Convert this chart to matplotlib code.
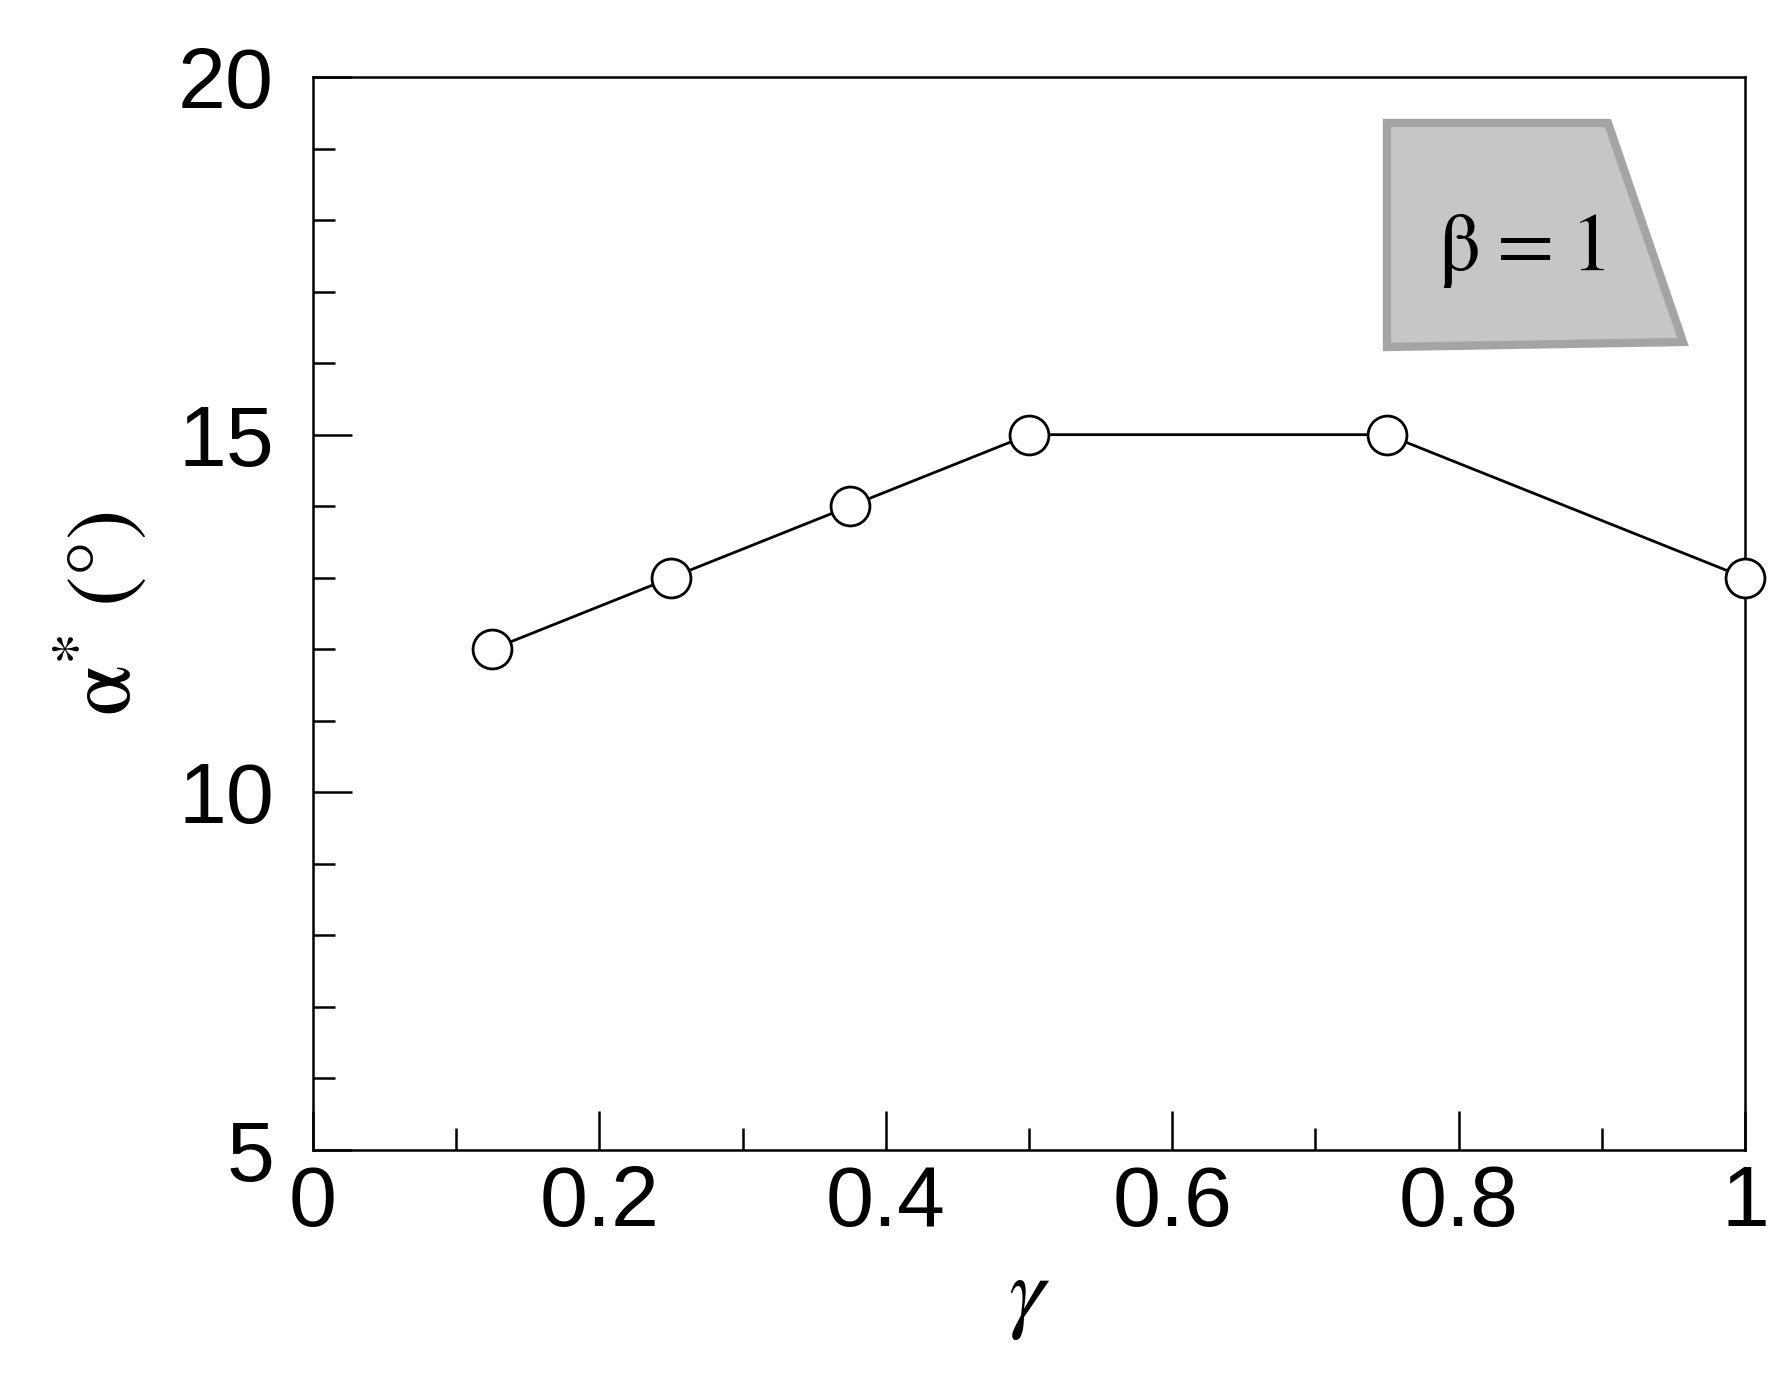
import matplotlib
matplotlib.use('Agg')
import matplotlib.pyplot as plt
from matplotlib.patches import Polygon
from matplotlib.ticker import MultipleLocator

plt.rcParams['mathtext.fontset'] = 'stix'

# valores
gamma = [0.125, 0.25, 0.375, 0.5, 0.75, 1.0]
alpha_star = [12, 13, 14, 15, 15, 13]

x_ticks = [0, 0.2, 0.4, 0.6, 0.8, 1]
x_labels = ['0', '0.2', '0.4', '0.6', '0.8', '1']
y_ticks = [5, 10, 15, 20]
y_labels = ['5', '10', '15', '20']

W, H = 1786, 1375
fig = plt.figure(figsize=(W / 100, H / 100), dpi=100)
ax = fig.add_axes([313 / W, 1 - 1150 / H, (1745 - 313) / W, (1150 - 77) / H])

ax.plot(gamma, alpha_star, color='black', linewidth=2.0, marker='o',
        markersize=28, markerfacecolor='white', markeredgecolor='black',
        markeredgewidth=2.0, clip_on=False, zorder=3)

ax.set_xlim(0, 1)
ax.set_ylim(5, 20)
ax.set_xticks(x_ticks)
ax.set_xticklabels(x_labels)
ax.set_yticks(y_ticks)
ax.set_yticklabels(y_labels)
ax.xaxis.set_minor_locator(MultipleLocator(0.1))
ax.yaxis.set_minor_locator(MultipleLocator(1))

for s in ax.spines.values():
    s.set_linewidth(1.8)

ax.tick_params(which='both', direction='in', top=False, right=False, width=1.8)
ax.tick_params(which='major', length=28)
ax.tick_params(which='minor', length=16)
ax.tick_params(axis='x', which='major', pad=10, labelsize=62)
ax.tick_params(axis='y', which='major', pad=28, labelsize=62)
for lab in ax.get_xticklabels() + ax.get_yticklabels():
    lab.set_fontfamily('Liberation Sans')

ax.set_xlabel(r'$\gamma$', fontsize=66, labelpad=6)
ax.set_ylabel(r'$\mathrm{\alpha}^{*}\ \mathrm{(°)}$', fontsize=66, labelpad=20)

# recuadro gris con beta = 1
pts = [(1387, 123), (1608, 123), (1683, 342), (1387, 347)]
poly = Polygon([(px / W, 1 - py / H) for px, py in pts], closed=True,
               transform=fig.transFigure, facecolor='#c6c6c6',
               edgecolor='#a4a4a4', linewidth=6, zorder=5)
fig.patches.append(poly)
fig.text(1522 / W, 1 - 250 / H, r'$\mathrm{\beta}\hspace{0.08}=\hspace{0.08}1$',
         fontsize=60, ha='center', va='center', zorder=6)

plt.savefig('out.png', dpi=100)
